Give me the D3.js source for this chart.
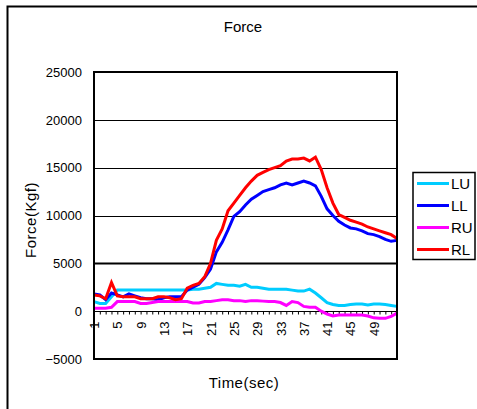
<!DOCTYPE html>
<html>
<head>
<meta charset="utf-8">
<script src="https://cdn.jsdelivr.net/npm/d3@7"></script>
<style>
  html, body { margin: 0; padding: 0; background: #fff; }
  svg { display: block; font-family: "Liberation Sans", Arial, sans-serif; }
</style>
</head>
<body>
<svg id="chart" width="477" height="409"></svg>
<script>
// Time samples (sec) and measured force per member (Kgf)
const times = d3.range(1, 54);
const tickLabels = [1, 5, 9, 13, 17, 21, 25, 29, 33, 37, 41, 45, 49];
const yTicks = [-5000, 0, 5000, 10000, 15000, 20000, 25000];
const seriesNames = ["LU", "LL", "RU", "RL"];
const seriesColors = ["#00CCFF", "#0000FF", "#FF00FF", "#FF0000"];

const LU = [1000, 800, 800, 1500, 2200, 2200, 2200, 2200, 2200, 2200,
            2200, 2200, 2200, 2200, 2200, 2200, 2200, 2300, 2300, 2400,
            2500, 2900, 2800, 2700, 2700, 2600, 2800, 2500, 2500, 2400,
            2300, 2300, 2300, 2300, 2200, 2100, 2100, 2300, 1900, 1400,
            900, 700, 600, 600, 700, 750, 750, 650, 750, 750,
            700, 600, 500];
const LL = [1800, 1700, 1200, 1900, 1700, 1500, 1800, 1600, 1400, 1300,
            1300, 1200, 1400, 1500, 1500, 1500, 2200, 2500, 2800, 3500,
            4400, 6200, 7200, 8500, 9900, 10400, 11100, 11700, 12100, 12500,
            12700, 12900, 13200, 13400, 13200, 13400, 13600, 13400, 13100, 12000,
            10700, 10000, 9400, 9000, 8700, 8600, 8400, 8100, 8000, 7800,
            7500, 7300, 7400];
const RU = [300, 300, 300, 400, 1000, 1000, 1000, 1000, 800, 800,
            900, 1000, 1000, 1000, 1000, 1000, 1000, 850, 850, 1000,
            1000, 1100, 1200, 1200, 1100, 1100, 1000, 1100, 1100, 1050,
            1000, 1000, 900, 600, 1000, 900, 500, 400, 400, 0,
            -300, -500, -400, -400, -400, -400, -400, -500, -700, -750,
            -750, -550, -200];
const RL = [1700, 1600, 1300, 3000, 1600, 1500, 1500, 1500, 1300, 1300,
            1300, 1500, 1500, 1400, 1200, 1300, 2400, 2700, 2900, 3600,
            5000, 7400, 8600, 10500, 11300, 12100, 12900, 13600, 14200, 14500,
            14800, 15000, 15200, 15700, 15900, 15900, 16000, 15700, 16100, 14800,
            12900, 11300, 10100, 9800, 9500, 9300, 9100, 8800, 8600, 8400,
            8200, 8000, 7600];

const seriesValues = [LU, LL, RU, RL];

const svg = d3.select("#chart");
const plot = { left: 94, right: 397, top: 72, bottom: 359 };

const x = d3.scalePoint().domain(times).range([plot.left, plot.right]).padding(0);
const y = d3.scaleLinear().domain([-5000, 25000]).range([plot.bottom, plot.top]);

// outer chart frame
svg.append("rect")
  .attr("x", 7.5).attr("y", 6.5).attr("width", 500).attr("height", 420)
  .attr("fill", "#fff").attr("stroke", "#000").attr("stroke-width", 2);

// title
svg.append("text")
  .attr("x", 243).attr("y", 32)
  .attr("text-anchor", "middle").attr("font-size", 15)
  .text("Force");

// horizontal gridlines
const grid = svg.append("g");
[5000, 10000, 15000, 20000].forEach(v => {
  grid.append("line")
    .attr("x1", plot.left).attr("x2", plot.right)
    .attr("y1", Math.round(y(v)) + 0.5).attr("y2", Math.round(y(v)) + 0.5)
    .attr("stroke", "#000").attr("stroke-width", v === 5000 ? 2 : 1);
});

// y axis labels
const yAxis = svg.append("g")
  .attr("transform", `translate(${plot.left},0)`)
  .call(d3.axisLeft(y).tickValues(yTicks).tickSize(0).tickPadding(12)
        .tickFormat(d3.format("d")));
yAxis.select(".domain").remove();
yAxis.selectAll("text").attr("font-size", 13).attr("fill", "#000")
  .attr("font-family", "Liberation Sans, Arial, sans-serif");

// category axis crossing at zero
const xAxis = svg.append("g")
  .attr("transform", `translate(0,${Math.round(y(0)) + 0.5})`)
  .call(d3.axisBottom(x).tickSize(3).tickPadding(10)
        .tickFormat(d => tickLabels.includes(d) ? d : ""));
xAxis.select(".domain").attr("stroke", "#000").attr("stroke-width", 1)
  .attr("d", `M${plot.left},0H${plot.right}`);
xAxis.selectAll(".tick line").attr("stroke", "#000");
xAxis.selectAll(".tick text")
  .attr("font-size", 13).attr("fill", "#000")
  .attr("font-family", "Liberation Sans, Arial, sans-serif")
  .attr("text-anchor", "end")
  .attr("dy", "0.35em")
  .attr("transform", "translate(0,10) rotate(-90)")
  .attr("x", 0).attr("y", 0);

// series lines
const line = d3.line()
  .x((d, i) => x(times[i]))
  .y(d => y(d));

seriesValues.forEach((vals, k) => {
  svg.append("path")
    .datum(vals)
    .attr("fill", "none")
    .attr("stroke", seriesColors[k])
    .attr("stroke-width", 3)
    .attr("stroke-linejoin", "miter")
    .attr("d", line);
});

// plot area border
svg.append("rect")
  .attr("x", plot.left).attr("y", plot.top)
  .attr("width", plot.right - plot.left).attr("height", plot.bottom - plot.top)
  .attr("fill", "none").attr("stroke", "#000").attr("stroke-width", 2);

// axis titles
svg.append("text")
  .attr("x", 244).attr("y", 388)
  .attr("text-anchor", "middle").attr("font-size", 15)
  .attr("letter-spacing", 0.5)
  .text("Time(sec)");
svg.append("text")
  .attr("transform", "translate(36,220) rotate(-90)")
  .attr("text-anchor", "middle").attr("font-size", 15)
  .attr("letter-spacing", 0.5)
  .text("Force(Kgf)");

// legend
const legend = svg.append("g");
legend.append("rect")
  .attr("x", 413).attr("y", 172.5).attr("width", 62).attr("height", 87)
  .attr("fill", "#fff").attr("stroke", "#000").attr("stroke-width", 1.5);
seriesNames.forEach((name, k) => {
  const ly = 183.5 + k * 22;
  legend.append("line")
    .attr("x1", 417).attr("x2", 449).attr("y1", ly).attr("y2", ly)
    .attr("stroke", seriesColors[k]).attr("stroke-width", 3);
  legend.append("text")
    .attr("x", 451).attr("y", ly).attr("dy", "0.35em")
    .attr("font-size", 15)
    .text(name);
});
</script>
</body>
</html>
